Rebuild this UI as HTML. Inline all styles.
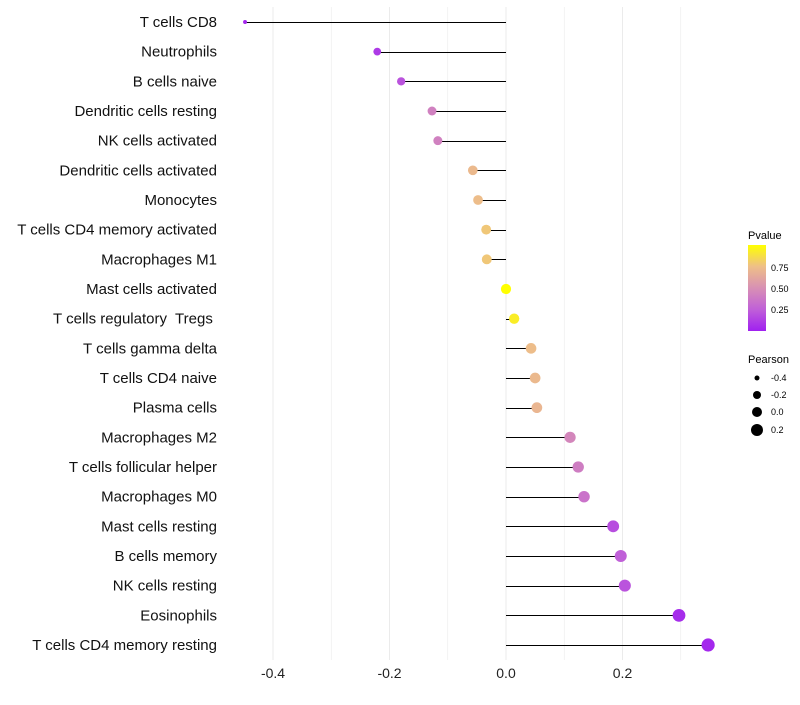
<!DOCTYPE html>
<html><head><meta charset="utf-8"><style>
body{margin:0;background:#fff;font-family:"Liberation Sans",sans-serif}
#labels text{white-space:pre}
</style></head><body>
<svg id="chart" width="800" height="700" xmlns="http://www.w3.org/2000/svg" font-family="Liberation Sans, sans-serif">
<defs><linearGradient id="pg" x1="0" y1="1" x2="0" y2="0">
<stop offset="0" stop-color="#a020f0"/><stop offset="0.25" stop-color="#c060d8"/><stop offset="0.5" stop-color="#d890b4"/><stop offset="0.75" stop-color="#eebf88"/><stop offset="1" stop-color="#ffff00"/>
</linearGradient></defs>
<g id="grid"></g><g id="marks"></g><g id="labels"></g><g id="ticks"></g>
<g>
<text x="748" y="239" font-size="11">Pvalue</text>
<rect x="748" y="245" width="18" height="86" fill="url(#pg)"/>
<text x="771" y="271" font-size="9">0.75</text>
<text x="771" y="292" font-size="9">0.50</text>
<text x="771" y="313" font-size="9">0.25</text>
</g>
<g>
<text x="748" y="363" font-size="11">Pearson</text>
<circle cx="757" cy="378" r="2.5"/>
<circle cx="757" cy="395" r="4"/>
<circle cx="757" cy="412" r="5"/>
<circle cx="757" cy="430" r="6"/>
<text x="771" y="381" font-size="9">-0.4</text>
<text x="771" y="398" font-size="9">-0.2</text>
<text x="771" y="415" font-size="9">0.0</text>
<text x="771" y="433" font-size="9">0.2</text>
</g>
</svg>
<script>
const categories=["T cells CD8","Neutrophils","B cells naive","Dendritic cells resting","NK cells activated","Dendritic cells activated","Monocytes","T cells CD4 memory activated","Macrophages M1","Mast cells activated","T cells regulatory  Tregs ","T cells gamma delta","T cells CD4 naive","Plasma cells","Macrophages M2","T cells follicular helper","Macrophages M0","Mast cells resting","B cells memory","NK cells resting","Eosinophils","T cells CD4 memory resting"];
const pearson=[-0.448,-0.221,-0.180,-0.127,-0.117,-0.057,-0.048,-0.034,-0.033,0.0,0.014,0.043,0.050,0.053,0.110,0.124,0.134,0.184,0.197,0.204,0.297,0.347];
const pvalues=[0.03,0.1,0.2,0.42,0.42,0.72,0.74,0.78,0.78,1.0,0.93,0.74,0.72,0.7,0.45,0.4,0.35,0.18,0.25,0.2,0.05,0.03];
const ticks=[-0.4,-0.2,0,0.2];
const NS="http://www.w3.org/2000/svg";
const x=v=>506+v*582.5;
const y=i=>22+i*(623/21);
const rScale=v=>Math.sqrt(Math.max(1,26.1+49.6*v));
const stops=[[0,[160,32,240]],[0.25,[192,96,216]],[0.5,[216,144,180]],[0.75,[238,191,136]],[1,[255,255,0]]];
function color(p){for(let k=1;k<stops.length;k++){if(p<=stops[k][0]){const a=stops[k-1],b=stops[k],t=(p-a[0])/(b[0]-a[0]);return "rgb("+a[1].map((c,j)=>Math.round(c+(b[1][j]-c)*t)).join(",")+")";}}return "rgb(255,255,0)";}
function mk(tag,attrs,parent){const e=document.createElementNS(NS,tag);for(const k in attrs)e.setAttribute(k,attrs[k]);document.getElementById(parent).appendChild(e);return e;}
for(let v=-0.4;v<=0.31;v+=0.1){const g=mk("line",{x1:x(v),x2:x(v),y1:7,y2:660,stroke:"#ebebeb","stroke-width":Math.abs(Math.round(v*10))%2===0?1:0.6},"grid");

}
ticks.forEach(t=>{const e=mk("text",{x:x(t),y:678,"font-size":14,"text-anchor":"middle",fill:"#222"},"ticks");e.textContent=t===0?"0.0":t.toFixed(1);

});
categories.forEach((c,i)=>{
const l=mk("line",{x1:x(0),x2:x(pearson[i]),y1:Math.round(y(i))+0.5,y2:Math.round(y(i))+0.5,stroke:"#000","stroke-width":1,"shape-rendering":"crispEdges"},"marks");


const p=mk("circle",{cx:x(pearson[i]),cy:y(i),r:rScale(pearson[i]),fill:color(pvalues[i])},"marks");


const t=mk("text",{x:217,y:y(i)+5,"font-size":15,"text-anchor":"end",fill:"#111"},"labels");
t.textContent=c;


});
</script>
</body></html>
